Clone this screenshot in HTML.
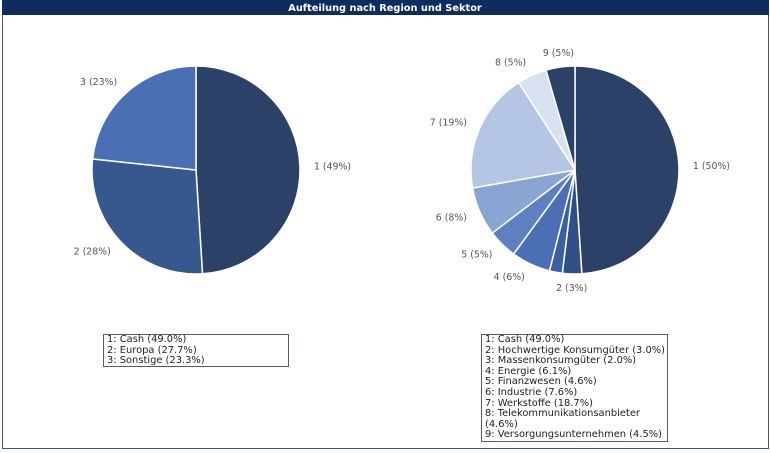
<!DOCTYPE html>
<html><head><meta charset="utf-8"><style>
body{margin:0;background:#fff;font-family:"DejaVu Sans","Liberation Sans",sans-serif;}
#wrap{position:relative;width:770px;height:453px;overflow:hidden;}
.legend{position:absolute;border:1px solid #555e6a;font-size:9.9px;line-height:10.6px;color:#222;padding:0 3px;box-sizing:border-box;background:#fff;white-space:nowrap;}
</style></head><body>
<div id="wrap">
<svg width="770" height="453" style="position:absolute;left:0;top:0">
<rect x="2.5" y="0.5" width="766" height="448" fill="none" stroke="#4a5866"/>
<rect x="2" y="0" width="767" height="15" fill="#0d2d5e"/>
<text x="385" y="11" text-anchor="middle" fill="#fff" font-weight="bold" font-size="9.8" font-family="DejaVu Sans, sans-serif">Aufteilung nach Region und Sektor</text>
<g id="pie1"></g>
<g id="pie2"></g>
</svg>
<div class="legend" style="left:103px;top:334px;width:186px;height:33px">
<div>1: Cash (49.0%)</div>
<div>2: Europa (27.7%)</div>
<div>3: Sonstige (23.3%)</div>
</div>
<div class="legend" style="left:481px;top:334px;width:187px;height:108px">
<div>1: Cash (49.0%)</div>
<div>2: Hochwertige Konsumgüter (3.0%)</div>
<div>3: Massenkonsumgüter (2.0%)</div>
<div>4: Energie (6.1%)</div>
<div>5: Finanzwesen (4.6%)</div>
<div>6: Industrie (7.6%)</div>
<div>7: Werkstoffe (18.7%)</div>
<div>8: Telekommunikationsanbieter<br>(4.6%)</div>
<div>9: Versorgungsunternehmen (4.5%)</div>
</div>
</div>
<script>
const regionValues=[49.0,27.7,23.3];
const regionLabels=["1 (49%)","2 (28%)","3 (23%)"];
const regionColors=["#2b4168","#37578f","#4a6fb5"];
const sectorValues=[49.0,3.0,2.0,6.1,4.6,7.6,18.7,4.6,4.5];
const sectorLabels=["1 (50%)","2 (3%)","","4 (6%)","5 (5%)","6 (8%)","7 (19%)","8 (5%)","9 (5%)"];
const sectorColors=["#2b4168","#2f4f86","#3a5fa3","#4a6fb5","#5d80c0","#8aa5d4","#b4c6e3","#d9e1f0","#2b4168"];
const NS="http://www.w3.org/2000/svg";
function drawPie(gid,vals,labels,colors,cx,cy,r){
  const g=document.getElementById(gid);
  const tot=vals.reduce((a,b)=>a+b,0);
  let a0=0;
  vals.forEach((v,i)=>{
    const a1=a0+v/tot*2*Math.PI;
    const p=(a)=>[cx+r*Math.sin(a),cy-r*Math.cos(a)];
    const [x0,y0]=p(a0),[x1,y1]=p(a1);
    const path=document.createElementNS(NS,"path");
    path.setAttribute("d",`M${cx},${cy}L${x0},${y0}A${r},${r} 0 ${a1-a0>Math.PI?1:0} 1 ${x1},${y1}Z`);
    path.setAttribute("fill",colors[i]);
    path.setAttribute("stroke","#fff");
    path.setAttribute("stroke-width","1.5");
    
    
    g.appendChild(path);
    if(labels[i]){
      const am=(a0+a1)/2, lr=r+14;
      const lx=cx+lr*Math.sin(am), ly=cy-lr*Math.cos(am)+3;
      const t=document.createElementNS(NS,"text");
      t.setAttribute("x",lx);t.setAttribute("y",ly);
      t.setAttribute("font-size","9.4");
      t.setAttribute("fill","#555");
      t.setAttribute("font-family","DejaVu Sans, sans-serif");
      const s=Math.sin(am);
      t.setAttribute("text-anchor",s>0.3?"start":(s<-0.3?"end":"middle"));
      t.textContent=labels[i];
      
      
      g.appendChild(t);
    }
    a0=a1;
  });
}
drawPie("pie1",regionValues,regionLabels,regionColors,196,170,104);
drawPie("pie2",sectorValues,sectorLabels,sectorColors,575,170,104);
</script>
</body></html>
